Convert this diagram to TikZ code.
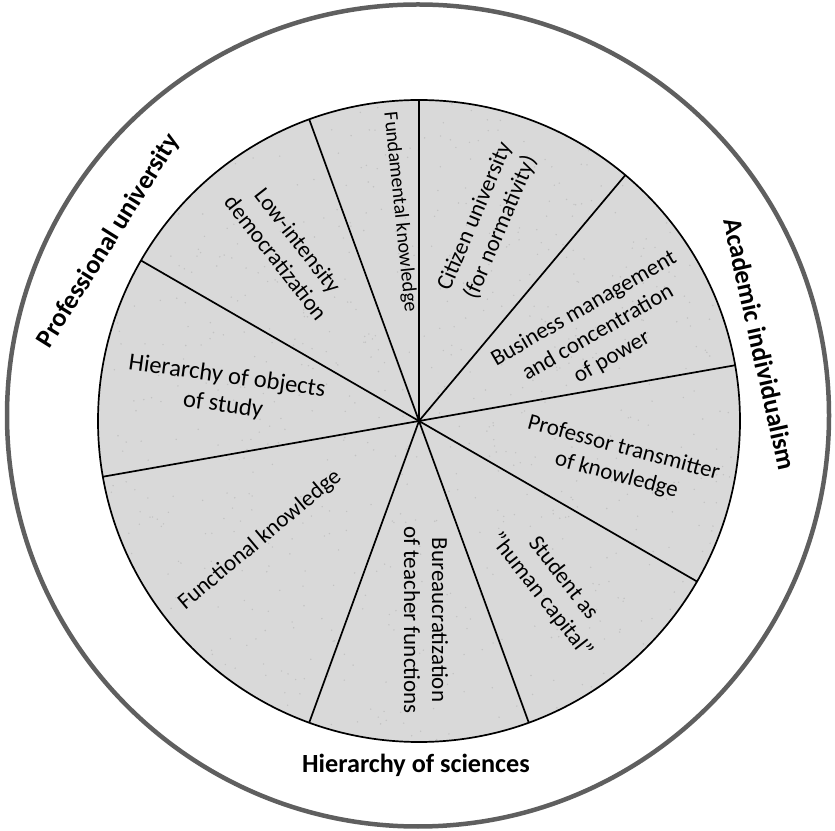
\documentclass[tikz,border=0pt]{standalone}
\usepackage{fontspec}
\setmainfont{Carlito}
\usetikzlibrary{calc}
\definecolor{piefill}{HTML}{D9D9D9}
\definecolor{speckgrey}{HTML}{C2C2C2}
\definecolor{outergrey}{HTML}{5F5F5F}
\begin{document}
\begin{tikzpicture}[x=1pt,y=1pt,
  sectortext/.style={font=\fontsize{23}{28}\selectfont, align=center, inner sep=0pt, text=black},
  smalltext/.style={font=\fontsize{20}{24}\selectfont, align=center, inner sep=0pt, text=black},
  ringtext/.style={font=\fontsize{26.2}{30}\selectfont\bfseries, inner sep=0pt, text=black},
  spokeline/.style={line width=1.7pt, draw=black}]
\useasboundingbox (0,0) rectangle (835,830);
% outer ring
\coordinate (O) at (418,414.5);
\draw[line width=4.5pt, draw=outergrey] (O) circle (411);
% pie
\coordinate (C) at (419,409);
\fill[piefill] (C) circle (321);
\pgfmathsetseed{7}
\begin{scope}
  \clip (C) circle (320);
  \foreach \k in {1,...,900}{
    \pgfmathsetmacro{\rx}{419+321*rand}
    \pgfmathsetmacro{\ry}{409+321*rand}
    \fill[speckgrey] (\rx,\ry) circle (0.8);
  }
\end{scope}
\foreach \a [count=\i] in {90,110,150,190,250,290,330,10,50}{
  \coordinate (s\i) at ($(C)+(\a:321)$);
}
\foreach \i in {1,...,9}{
  \draw[spokeline] (C) -- (s\i);
}
\draw[line width=1.7pt] (C) circle (321);
% sector labels
\node[smalltext, rotate=-84] (fund) at (400,618) {Fundamental knowledge};
\node[sectortext, rotate=-52] (low) at (287,581) {Low-intensity\\democratization};
\node[sectortext, font=\fontsize{24.5}{29}\selectfont, rotate=-8] (hier) at (225,439) {Hierarchy of objects\\of study};
\node[sectortext, rotate=40] (func) at (260,290) {Functional knowledge};
\node[sectortext, rotate=-90] (bur) at (426,210) {Bureaucratization\\of teacher functions};
\node[sectortext, rotate=-52] (stud) at (552,243) {Student as\\"human capital"};
\node[sectortext, rotate=-15] (prof) at (620,368) {Professor transmitter\\of knowledge};
\node[sectortext, rotate=30] (bus) at (598,497) {Business management\\and concentration\\of power};
\node[sectortext, rotate=67] (cit) at (488,608) {Citizen university\\(for normativity)};
% ring labels
\node[ringtext, rotate=58] (profuni) at (109,589) {Professional university};
\node[ringtext, rotate=-77.5] (acad) at (760,486) {Academic individualism};
\node[ringtext, anchor=base] (sci) at (416,58) {Hierarchy of sciences};
\end{tikzpicture}
\end{document}
